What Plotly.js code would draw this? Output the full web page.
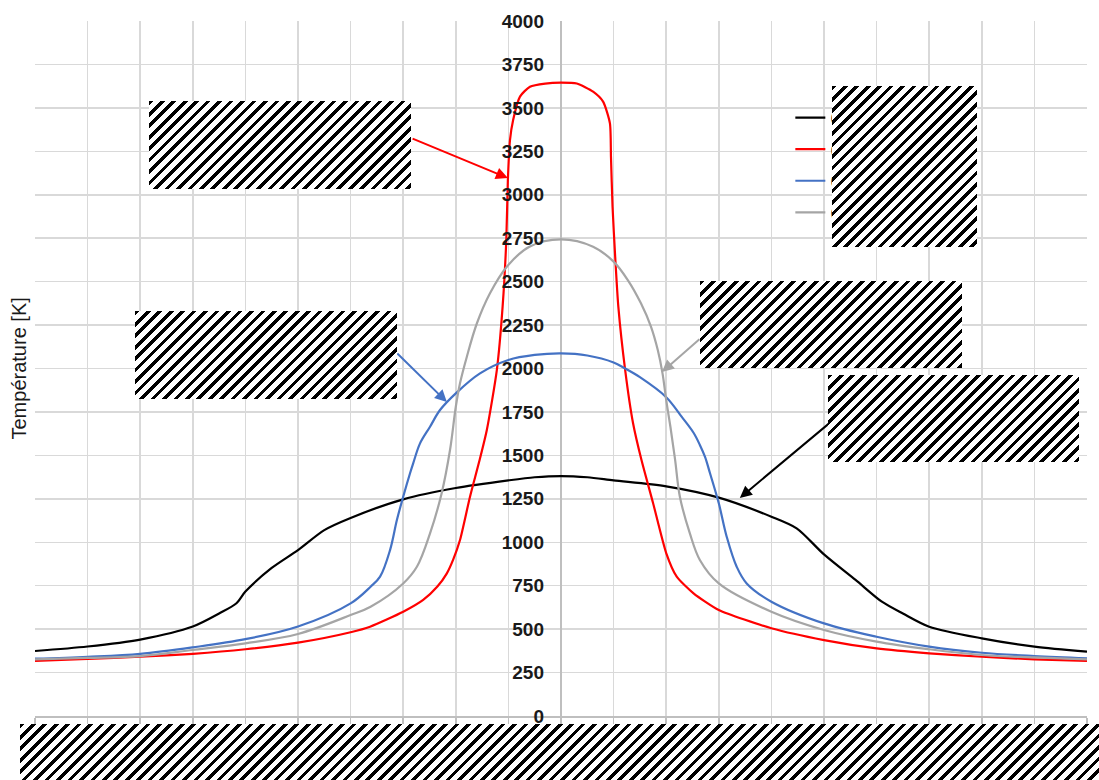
<!DOCTYPE html>
<html>
<head>
<meta charset="utf-8">
<script src="https://cdn.plot.ly/plotly-3.0.1.min.js"></script>
<style>
  html, body { margin: 0; padding: 0; background: #fff; }
  #wrap { position: relative; width: 1099px; height: 780px; overflow: hidden; }
  #chart { position: absolute; left: 0; top: 0; width: 1099px; height: 780px; }
  .hatch { position: absolute;
    background: repeating-linear-gradient(135deg, #000 0px, #000 3.3px, #fff 3.3px, #fff 8.1px); }
</style>
</head>
<body>
<div id="wrap">
  <div id="chart"></div>
</div>
<script>
// ---- data ----
const seriesNames = ["Cas 1", "Cas 2", "Cas 3", "Cas 4"];
const seriesColors = ["#000000", "#FF0000", "#4472C4", "#A5A5A5"];

const blackX = [-10, -9, -8, -7, -6.5, -6.17, -6, -5.5, -5, -4.5, -4, -3, -2, -1, -0.5, 0, 0.5, 1, 2, 3, 4, 4.48, 5, 5.6, 6.1, 6.5, 7, 8, 9, 10];
const blackT = [374, 400, 440, 515, 590, 649, 716, 852, 955, 1070, 1140, 1247, 1312, 1356, 1374, 1381, 1374, 1356, 1322, 1257, 1147, 1080, 930, 783, 658, 590, 514, 447, 399, 370];

const redX = [-10, -9, -8, -7, -6, -5, -4, -3.63, -3, -2.62, -2.35, -2.17, -2.05, -1.92, -1.73, -1.55, -1.41, -1.22, -1.11, -1.04, -1.01, -0.97, -0.91, -0.78, -0.59, -0.3, 0, 0.3, 0.61, 0.8, 0.93, 0.95, 0.98, 1.03, 1.09, 1.22, 1.37, 1.53, 1.75, 2, 2.2, 2.52, 3, 4, 5, 6, 7, 8, 9, 10];
const redT = [317, 328, 341, 358, 384, 422, 482, 514, 600, 668, 745, 821, 900, 1013, 1262, 1470, 1646, 1991, 2356, 2740, 3085, 3315, 3430, 3565, 3622, 3640, 3645, 3640, 3593, 3536, 3411, 3219, 2931, 2643, 2356, 1991, 1685, 1473, 1226, 938, 802, 706, 610, 505, 437, 389, 361, 341, 326, 317];

const blueX = [-10, -9, -8, -7, -6, -5, -4, -3.62, -3.44, -3.25, -3.12, -3, -2.87, -2.81, -2.68, -2.49, -2.3, -2, -1.54, -1, -0.5, 0, 0.5, 1, 1.22, 1.5, 2, 2.3, 2.52, 2.64, 2.74, 2.83, 3, 3.15, 3.34, 3.53, 4, 5, 6, 7, 8, 9, 10];
const blueT = [330, 341, 358, 395, 442, 515, 648, 744, 802, 955, 1128, 1262, 1397, 1454, 1569, 1665, 1761, 1857, 1972, 2049, 2078, 2087, 2075, 2035, 2000, 1950, 1835, 1720, 1630, 1560, 1490, 1400, 1224, 1032, 859, 763, 658, 533, 456, 399, 364, 345, 332];

const grayX = [-10, -9, -8, -7, -6, -5, -4, -3.62, -3, -2.74, -2.49, -2.27, -2.11, -2, -1.92, -1.79, -1.6, -1.35, -1.03, -0.6, 0, 0.61, 1, 1.27, 1.52, 1.71, 1.84, 1.93, 2, 2.08, 2.17, 2.26, 2.45, 2.64, 3, 4, 5, 6, 7, 8, 9, 10];
const grayT = [326, 334, 345, 380, 418, 472, 581, 629, 763, 859, 1051, 1281, 1531, 1780, 1915, 2068, 2259, 2433, 2586, 2701, 2743, 2701, 2615, 2509, 2375, 2241, 2106, 1972, 1819, 1665, 1473, 1262, 1051, 898, 763, 600, 495, 428, 384, 351, 337, 326];

const yTicks = [0, 250, 500, 750, 1000, 1250, 1500, 1750, 2000, 2250, 2500, 2750, 3000, 3250, 3500, 3750, 4000];
const xTicks = [-10, -9, -8, -7, -6, -5, -4, -3, -2, -1, 0, 1, 2, 3, 4, 5, 6, 7, 8, 9, 10];

// arrows: [tailX, tailT, headX, headT]
const arrowRed = [-2.85, 3327, -1.01, 3096];
const arrowBlue = [-3.14, 2095, -2.17, 1807];
const arrowGray = [2.66, 2176, 1.92, 1980];
const arrowBlack = [5.12, 1690, 3.40, 1255];

// ---- chart ----
const xs = [blackX, redX, blueX, grayX];
const ys = [blackT, redT, blueT, grayT];
const smooth = [0.8, 0.6, 1.0, 1.0];
const traces = xs.map((x, i) => ({
  x: x, y: ys[i], type: 'scatter', mode: 'lines', name: seriesNames[i],
  line: { color: seriesColors[i], width: 2.2, shape: 'spline', smoothing: smooth[i] }
}));

function arrow(a, color) {
  return { x: a[2], y: a[3], ax: a[0], ay: a[1], xref: 'x', yref: 'y', axref: 'x', ayref: 'y',
    text: '', showarrow: true, arrowhead: 2, arrowsize: 1.2, arrowwidth: 2, arrowcolor: color, standoff: 0 };
}

const layout = {
  width: 1099, height: 780, autosize: false,
  margin: { l: 35, r: 12, t: 21, b: 64, pad: 0 },
  paper_bgcolor: '#ffffff', plot_bgcolor: '#ffffff',
  font: { family: 'Liberation Sans, Arial, sans-serif', color: '#262626' },
  showlegend: true,
  legend: { x: 0.718, y: 0.891, xanchor: 'left', yanchor: 'top', bgcolor: 'rgba(0,0,0,0)',
    font: { size: 22, color: '#262626' }, tracegroupgap: 0 },
  xaxis: {
    range: [-10, 10], tickvals: xTicks, showgrid: true, gridcolor: '#d9d9d9', gridwidth: 1.5,
    zeroline: true, zerolinecolor: '#bfbfbf', zerolinewidth: 2,
    showline: true, linecolor: '#bfbfbf', linewidth: 1.5,
    ticks: 'outside', ticklen: 6, tickwidth: 1.5, tickcolor: '#bfbfbf',
    tickfont: { size: 16, color: '#262626' }, fixedrange: true
  },
  yaxis: {
    range: [0, 4000], tickvals: yTicks, anchor: 'free', position: 0.5,
    showgrid: true, gridcolor: '#d9d9d9', gridwidth: 1.5, zeroline: false, showline: false,
    ticks: '', ticklabelstandoff: 17,
    tickfont: { size: 19, color: '#1a1a1a', weight: 'bold' }, fixedrange: true
  },
  annotations: [
    arrow(arrowRed, '#FF0000'), arrow(arrowBlue, '#4472C4'),
    arrow(arrowGray, '#A5A5A5'), arrow(arrowBlack, '#000000'),
    { xref: 'paper', yref: 'paper', x: (18 - 35) / 1052, y: 0.5, text: 'Température [K]',
      textangle: -90, showarrow: false, font: { size: 20, color: '#1a1a1a' }, xanchor: 'center', yanchor: 'middle' }
  ]
};

Plotly.newPlot('chart', traces, layout, { displayModeBar: false, staticPlot: true }).then(() => {
  const boxes = [[149, 101, 262, 88], [832, 86, 145, 161], [135, 311, 262, 88], [700, 281, 262, 87], [828, 375, 251, 87], [20, 724, 1079, 56]];
  const wrap = document.getElementById('wrap');
  boxes.forEach(b => {
    const d = document.createElement('div');
    d.className = 'hatch';
    d.style.left = b[0] + 'px'; d.style.top = b[1] + 'px';
    d.style.width = b[2] + 'px'; d.style.height = b[3] + 'px';
    wrap.appendChild(d);
  });
});
</script>
</body>
</html>
